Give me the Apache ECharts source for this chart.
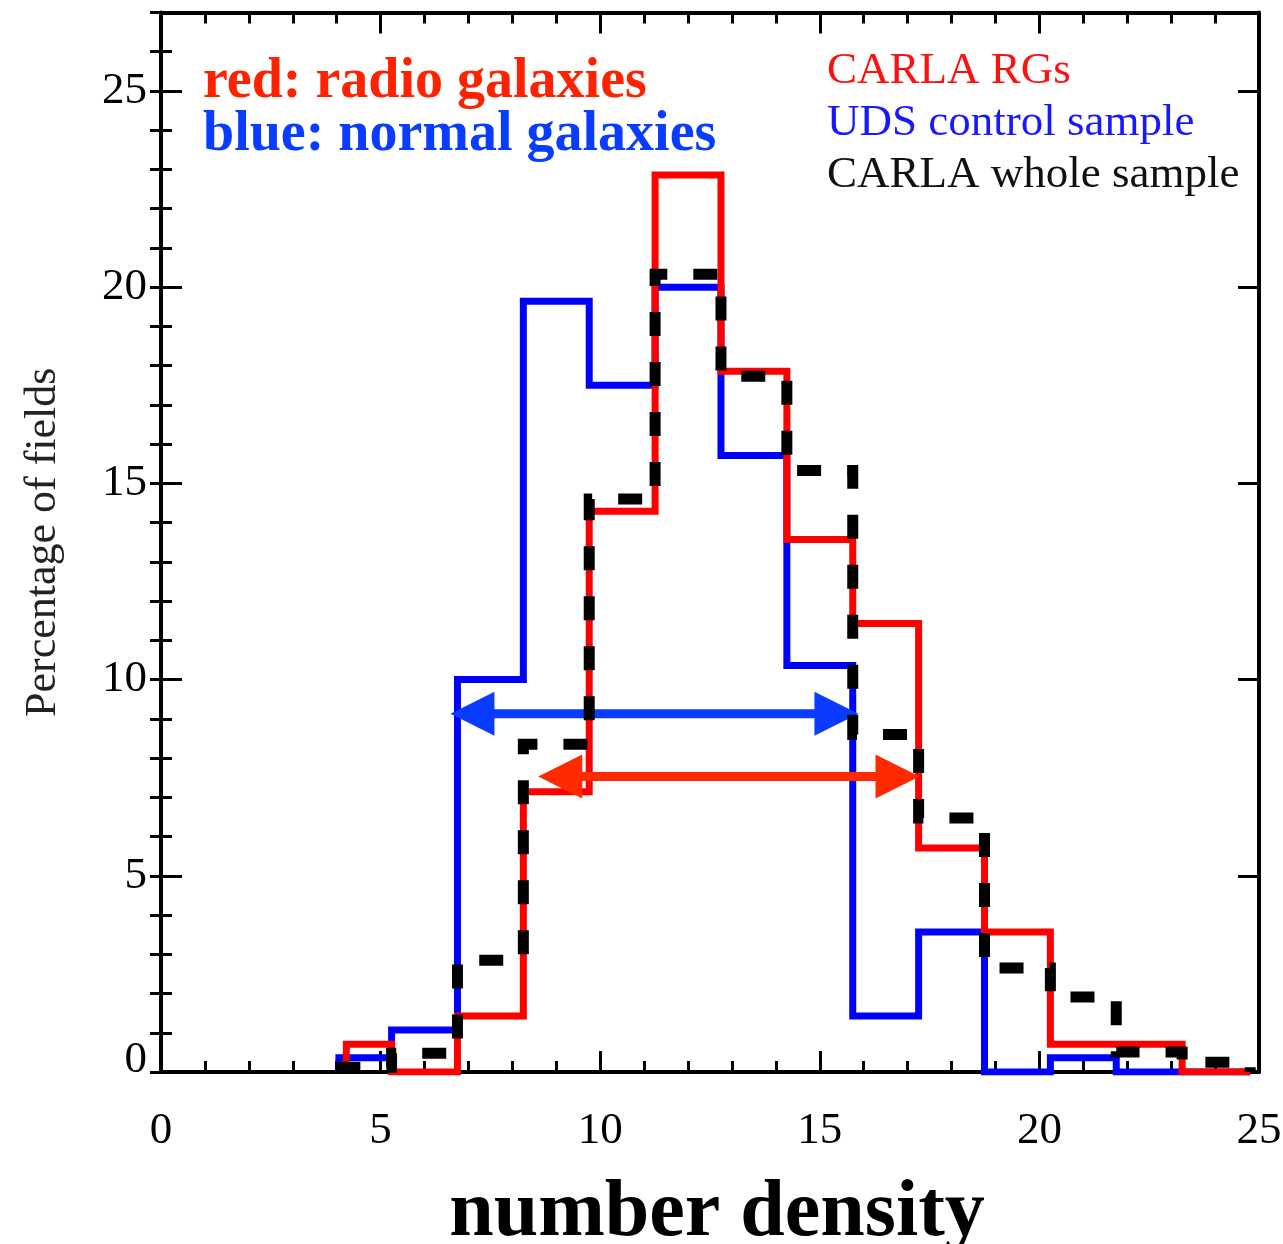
<!DOCTYPE html>
<html><head><meta charset="utf-8">
<script src="https://cdn.jsdelivr.net/npm/echarts@6/dist/echarts.min.js"></script>
<style>html,body{margin:0;padding:0;background:#fff}#c{width:1283px;height:1244px}</style>
</head><body><div id="c"></div>
<script>
// ---- data ----
const binEdges = [5.25, 6.75, 8.25, 9.75, 11.25, 12.75, 14.25, 15.75, 17.25, 18.75, 20.25, 21.75, 23.25, 24.8];
const redStart = 4.22, blueStart = 4.05, wholeStart = 4.1;
const redRG    = [0.71, 0, 1.43, 7.14, 14.29, 22.86, 17.86, 13.57, 11.43, 5.71, 3.57, 0.71, 0.71, 0];
const blueUDS  = [0.36, 1.07, 10.0, 19.64, 17.5, 20.0, 15.71, 10.36, 1.43, 3.57, 0, 0.36, 0, 0];
const blackAll = [0.12, 0.48, 2.85, 8.35, 14.6, 20.33, 17.73, 15.33, 8.6, 6.47, 2.65, 1.91, 0.51, 0.25];
const arrowY    = [9.13, 7.53];
const arrowFrom = [6.59, 8.59];
const arrowTo   = [15.88, 17.27];
const xMin = 0, xMax = 25, xStep = 5;
const yMin = 0, yMax = 27, yStep = 5;

const FONT = '"Liberation Serif", "DejaVu Serif", serif';
const arrowColors = ['#0a3cff', '#ff2a00'];

function steps(start, vals) {
  const pts = [[start, 0]];
  let left = start;
  vals.forEach((v, i) => {
    pts.push([left, v]);
    pts.push([binEdges[i], v]);
    left = binEdges[i];
  });
  pts.push([left, 0]);
  return pts;
}

const chart = echarts.init(document.getElementById('c'), null, {renderer: 'canvas'});

const tickMajor = {show: true, inside: true, length: 21, lineStyle: {color: '#000', width: 3}};
const tickMinor = {show: true, inside: true, length: 11, lineStyle: {color: '#000', width: 3}};
const axLine = {show: true, onZero: false, lineStyle: {color: '#000', width: 4}};

function xAx(pos, labels) {
  const a = {
    type: 'value', min: xMin, max: xMax, interval: xStep, position: pos,
    axisLine: axLine, axisTick: tickMajor,
    minorTick: {show: true, splitNumber: 5, length: 11, lineStyle: {color: '#000', width: 3}},
    splitLine: {show: false}, minorSplitLine: {show: false},
    axisLabel: labels ? {show: true, margin: 37, color: '#000', fontSize: 45, fontFamily: FONT} : {show: false}
  };
  if (labels) {
    a.name = 'number density';
    a.nameLocation = 'middle';
    a.nameGap = 102;
    a.nameTextStyle = {color: '#000', fontSize: 80, fontWeight: 'bold', fontFamily: FONT, padding: [0, 0, 0, 14]};
  }
  return a;
}
function yAx(pos, step, labels, line, tick) {
  const a = {
    type: 'value', min: yMin, max: yMax, interval: step, position: pos,
    axisLine: line ? axLine : {show: false}, axisTick: tick,
    splitLine: {show: false},
    axisLabel: {show: false}
  };
  if (labels) {
    a.axisLabel = {
      show: true, margin: 14, color: '#000', fontSize: 45, fontFamily: FONT,
      formatter: v => (v % 5 === 0 && v <= 25) ? (v === 0 ? '{lift|0}' : String(v)) : '',
      rich: {lift: {fontSize: 45, fontFamily: FONT, color: '#000', padding: [0, 0, 24, 0]}}
    };
    a.name = 'Percentage of fields';
    a.nameLocation = 'middle';
    a.nameGap = 96;
    a.nameRotate = 90;
    a.nameTextStyle = {color: '#222', fontSize: 44, fontFamily: FONT};
  }
  return a;
}

const option = {
  animation: false,
  backgroundColor: '#fff',
  grid: {left: 161, right: 24, top: 12.5, bottom: 172, containLabel: false, outerBoundsMode: 'none'},
  xAxis: [xAx('bottom', true), xAx('top', false)],
  yAxis: [
    yAx('left', yStep, true, true, tickMajor),
    yAx('left', 1, false, false, tickMinor),
    yAx('right', yStep, false, true, tickMajor),
    yAx('right', 1, false, false, tickMinor)
  ],
  series: [
    {type: 'line', name: 'UDS control sample', data: steps(blueStart, blueUDS), showSymbol: false, z: 2,
     lineStyle: {color: '#0000ff', width: 7, join: 'miter', cap: 'butt'}},
    {type: 'line', name: 'CARLA RGs', data: steps(redStart, redRG), showSymbol: false, z: 3,
     lineStyle: {color: '#ff0000', width: 7, join: 'miter', cap: 'butt'}},
    {type: 'custom', name: 'arrows', z: 4,
     data: arrowY.map((y, i) => [arrowFrom[i], arrowTo[i], y]),
     encode: {x: [0, 1], y: 2},
     renderItem: function (params, api) {
       const a = api.coord([api.value(0), api.value(2)]);
       const b = api.coord([api.value(1), api.value(2)]);
       const col = arrowColors[params.dataIndex];
       const L = 44, H = 22;
       return {type: 'group', children: [
         {type: 'line', shape: {x1: a[0] + L - 2, y1: a[1], x2: b[0] - L + 2, y2: b[1]}, style: {stroke: col, lineWidth: 9}},
         {type: 'polygon', shape: {points: [[a[0], a[1]], [a[0] + L, a[1] - H], [a[0] + L, a[1] + H]]}, style: {fill: col}},
         {type: 'polygon', shape: {points: [[b[0], b[1]], [b[0] - L, b[1] - H], [b[0] - L, b[1] + H]]}, style: {fill: col}}
       ]};
     }},
    {type: 'line', name: 'CARLA whole sample', data: steps(wholeStart, blackAll), showSymbol: false, z: 5,
     lineStyle: {color: '#000', width: 11, type: [24, 26], join: 'miter', cap: 'butt'}}
  ],
  graphic: [
    {type: 'text', x: 203, y: 83, z: 10, style: {text: 'red: radio galaxies', font: 'bold 56px ' + FONT, fill: '#ff2200', verticalAlign: 'middle'}},
    {type: 'text', x: 203, y: 136, z: 10, style: {text: 'blue: normal galaxies', font: 'bold 56px ' + FONT, fill: '#0a3cff', verticalAlign: 'middle'}},
    {type: 'text', x: 827, y: 71, z: 10, style: {text: 'CARLA RGs', font: '45px ' + FONT, fill: '#ff1010', verticalAlign: 'middle'}},
    {type: 'text', x: 827, y: 123, z: 10, style: {text: 'UDS control sample', font: '45px ' + FONT, fill: '#1818ff', verticalAlign: 'middle'}},
    {type: 'text', x: 827, y: 175, z: 10, style: {text: 'CARLA whole sample', font: '45px ' + FONT, fill: '#111', verticalAlign: 'middle'}}
  ]
};
chart.setOption(option);
</script>
</body></html>
